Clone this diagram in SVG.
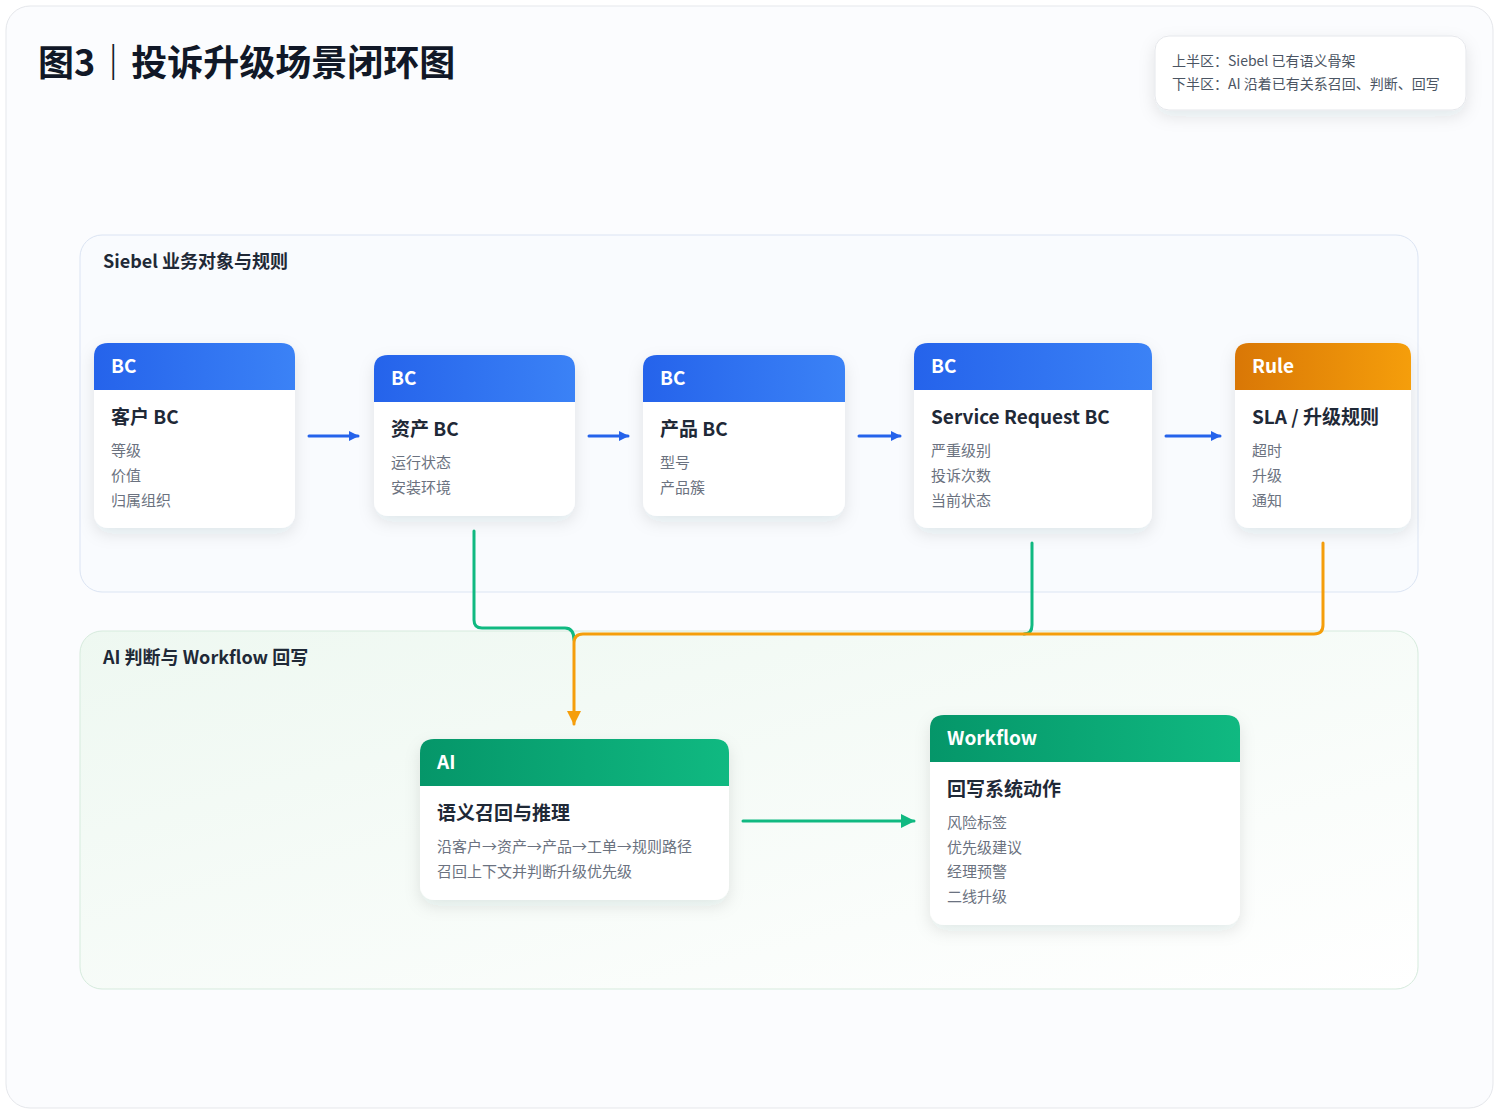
<svg xmlns="http://www.w3.org/2000/svg" width="1499" height="1116" viewBox="0 0 1499 1116">
<defs>
<linearGradient id="gb" x1="0" x2="1"><stop offset="0" stop-color="#2563eb"/><stop offset="1" stop-color="#3b82f6"/></linearGradient>
<linearGradient id="go" x1="0" x2="1"><stop offset="0" stop-color="#d97706"/><stop offset="1" stop-color="#f59e0b"/></linearGradient>
<linearGradient id="gg" x1="0" x2="1"><stop offset="0" stop-color="#059669"/><stop offset="1" stop-color="#10b981"/></linearGradient>
<linearGradient id="bgz" x1="0" y1="0" x2="1" y2="1"><stop offset="0" stop-color="#eef8f1"/><stop offset="1" stop-color="#ffffff"/></linearGradient>
<filter id="sh" x="-20%" y="-20%" width="140%" height="150%"><feDropShadow dx="0" dy="6" stdDeviation="8" flood-color="#1e293b" flood-opacity="0.10"/></filter>
<marker id="ab" markerWidth="10" markerHeight="10" refX="9" refY="5" orient="auto" markerUnits="userSpaceOnUse" viewBox="0 0 10 10"><path d="M0,0 L10,5 L0,10 z" fill="#2563eb"/></marker>
<marker id="ag" markerWidth="14" markerHeight="14" refX="13" refY="7" orient="auto" markerUnits="userSpaceOnUse" viewBox="0 0 14 14"><path d="M0,0 L14,7 L0,14 z" fill="#10b981"/></marker>
<marker id="ao" markerWidth="14" markerHeight="14" refX="13" refY="7" orient="auto" markerUnits="userSpaceOnUse" viewBox="0 0 14 14"><path d="M0,0 L14,7 L0,14 z" fill="#f59e0b"/></marker>
</defs>
<style>
text{font-family:"Noto Sans CJK SC","Noto Sans",sans-serif}
.card{fill:#fff;filter:url(#sh)}
.hd{font-size:19px;font-weight:700;fill:#fff}
.tt{font-size:19px;font-weight:700;fill:#1f2937}
.it{font-size:15px;fill:#6b7280}
.ln{fill:none;stroke-width:3;stroke-linecap:round}
</style>
<rect x="6" y="6" width="1487" height="1102" rx="24" fill="#fbfcfe" stroke="#e5e7eb"/>
<text x="38" y="76" font-size="36" font-weight="700" fill="#111827">图3｜投诉升级场景闭环图</text>
<g id="legend"><rect x="1155" y="36" width="311" height="74" rx="14" fill="#fff" stroke="#e5e7eb" filter="url(#sh)"/>
<text x="1172" y="66" font-size="14" fill="#4b5563">上半区：Siebel 已有语义骨架</text>
<text x="1172" y="89" font-size="14" fill="#4b5563">下半区：AI 沿着已有关系召回、判断、回写</text></g>
<g id="zone-top"><rect x="80" y="235" width="1338" height="357" rx="22" fill="#f9fbfe" stroke="#dbe4f3"/>
<text x="103" y="268" font-size="18" font-weight="700" fill="#1f2937">Siebel 业务对象与规则</text></g>
<g id="zone-bottom"><rect x="80" y="631" width="1338" height="358" rx="22" fill="url(#bgz)" stroke="#d6ebdd"/>
<text x="103" y="664" font-size="18" font-weight="700" fill="#1f2937">AI 判断与 Workflow 回写</text></g>
<g id="connectors">
<path class="ln" stroke="#2563eb" stroke-width="2.5" d="M309,436 H358" marker-end="url(#ab)"/>
<path class="ln" stroke="#2563eb" stroke-width="2.5" d="M589,436 H628" marker-end="url(#ab)"/>
<path class="ln" stroke="#2563eb" stroke-width="2.5" d="M859,436 H900" marker-end="url(#ab)"/>
<path class="ln" stroke="#2563eb" stroke-width="2.5" d="M1166,436 H1220" marker-end="url(#ab)"/>
<path class="ln" stroke="#10b981" d="M474,531 V620 Q474,628 482,628 H565 Q574,628 574,640"/>
<path class="ln" stroke="#10b981" d="M1032,543 V625 Q1032,634 1024,634"/>
<path class="ln" stroke="#f59e0b" d="M1323,543 V625 Q1323,634 1314,634 H583 Q574,634 574,643 V724" marker-end="url(#ao)"/>
<path class="ln" stroke="#10b981" d="M743,821 H914" marker-end="url(#ag)"/>
</g>
<g id="n-customer"><rect class="card" x="94" y="343" width="201" height="185" rx="14"/><path d="M108,343 H281 Q295,343 295,357 V390 H94 V357 Q94,343 108,343 Z" fill="url(#gb)"/>
<text class="hd" x="111" y="373">BC</text><text class="tt" x="111" y="424">客户 BC</text>
<text class="it" x="111" y="456">等级</text><text class="it" x="111" y="481">价值</text><text class="it" x="111" y="506">归属组织</text></g>
<g id="n-asset"><rect class="card" x="374" y="355" width="201" height="161" rx="14"/><path d="M388,355 H561 Q575,355 575,369 V402 H374 V369 Q374,355 388,355 Z" fill="url(#gb)"/>
<text class="hd" x="391" y="385">BC</text><text class="tt" x="391" y="436">资产 BC</text>
<text class="it" x="391" y="468">运行状态</text><text class="it" x="391" y="493">安装环境</text></g>
<g id="n-product"><rect class="card" x="643" y="355" width="202" height="161" rx="14"/><path d="M657,355 H831 Q845,355 845,369 V402 H643 V369 Q643,355 657,355 Z" fill="url(#gb)"/>
<text class="hd" x="660" y="385">BC</text><text class="tt" x="660" y="436">产品 BC</text>
<text class="it" x="660" y="468">型号</text><text class="it" x="660" y="493">产品簇</text></g>
<g id="n-sr"><rect class="card" x="914" y="343" width="238" height="185" rx="14"/><path d="M928,343 H1138 Q1152,343 1152,357 V390 H914 V357 Q914,343 928,343 Z" fill="url(#gb)"/>
<text class="hd" x="931" y="373">BC</text><text class="tt" x="931" y="424">Service Request BC</text>
<text class="it" x="931" y="456">严重级别</text><text class="it" x="931" y="481">投诉次数</text><text class="it" x="931" y="506">当前状态</text></g>
<g id="n-rule"><rect class="card" x="1235" y="343" width="176" height="185" rx="14"/><path d="M1249,343 H1397 Q1411,343 1411,357 V390 H1235 V357 Q1235,343 1249,343 Z" fill="url(#go)"/>
<text class="hd" x="1252" y="373">Rule</text><text class="tt" x="1252" y="424">SLA / 升级规则</text>
<text class="it" x="1252" y="456">超时</text><text class="it" x="1252" y="481">升级</text><text class="it" x="1252" y="506">通知</text></g>
<g id="n-ai"><rect class="card" x="420" y="739" width="309" height="161" rx="14"/><path d="M434,739 H715 Q729,739 729,753 V786 H420 V753 Q420,739 434,739 Z" fill="url(#gg)"/>
<text class="hd" x="437" y="769">AI</text><text class="tt" x="437" y="820">语义召回与推理</text>
<text class="it" x="437" y="852">沿客户→资产→产品→工单→规则路径</text><text class="it" x="437" y="877">召回上下文并判断升级优先级</text></g>
<g id="n-workflow"><rect class="card" x="930" y="715" width="310" height="210" rx="14"/><path d="M944,715 H1226 Q1240,715 1240,729 V762 H930 V729 Q930,715 944,715 Z" fill="url(#gg)"/>
<text class="hd" x="947" y="745">Workflow</text><text class="tt" x="947" y="796">回写系统动作</text>
<text class="it" x="947" y="828">风险标签</text><text class="it" x="947" y="853">优先级建议</text><text class="it" x="947" y="877">经理预警</text><text class="it" x="947" y="902">二线升级</text></g>
</svg>
